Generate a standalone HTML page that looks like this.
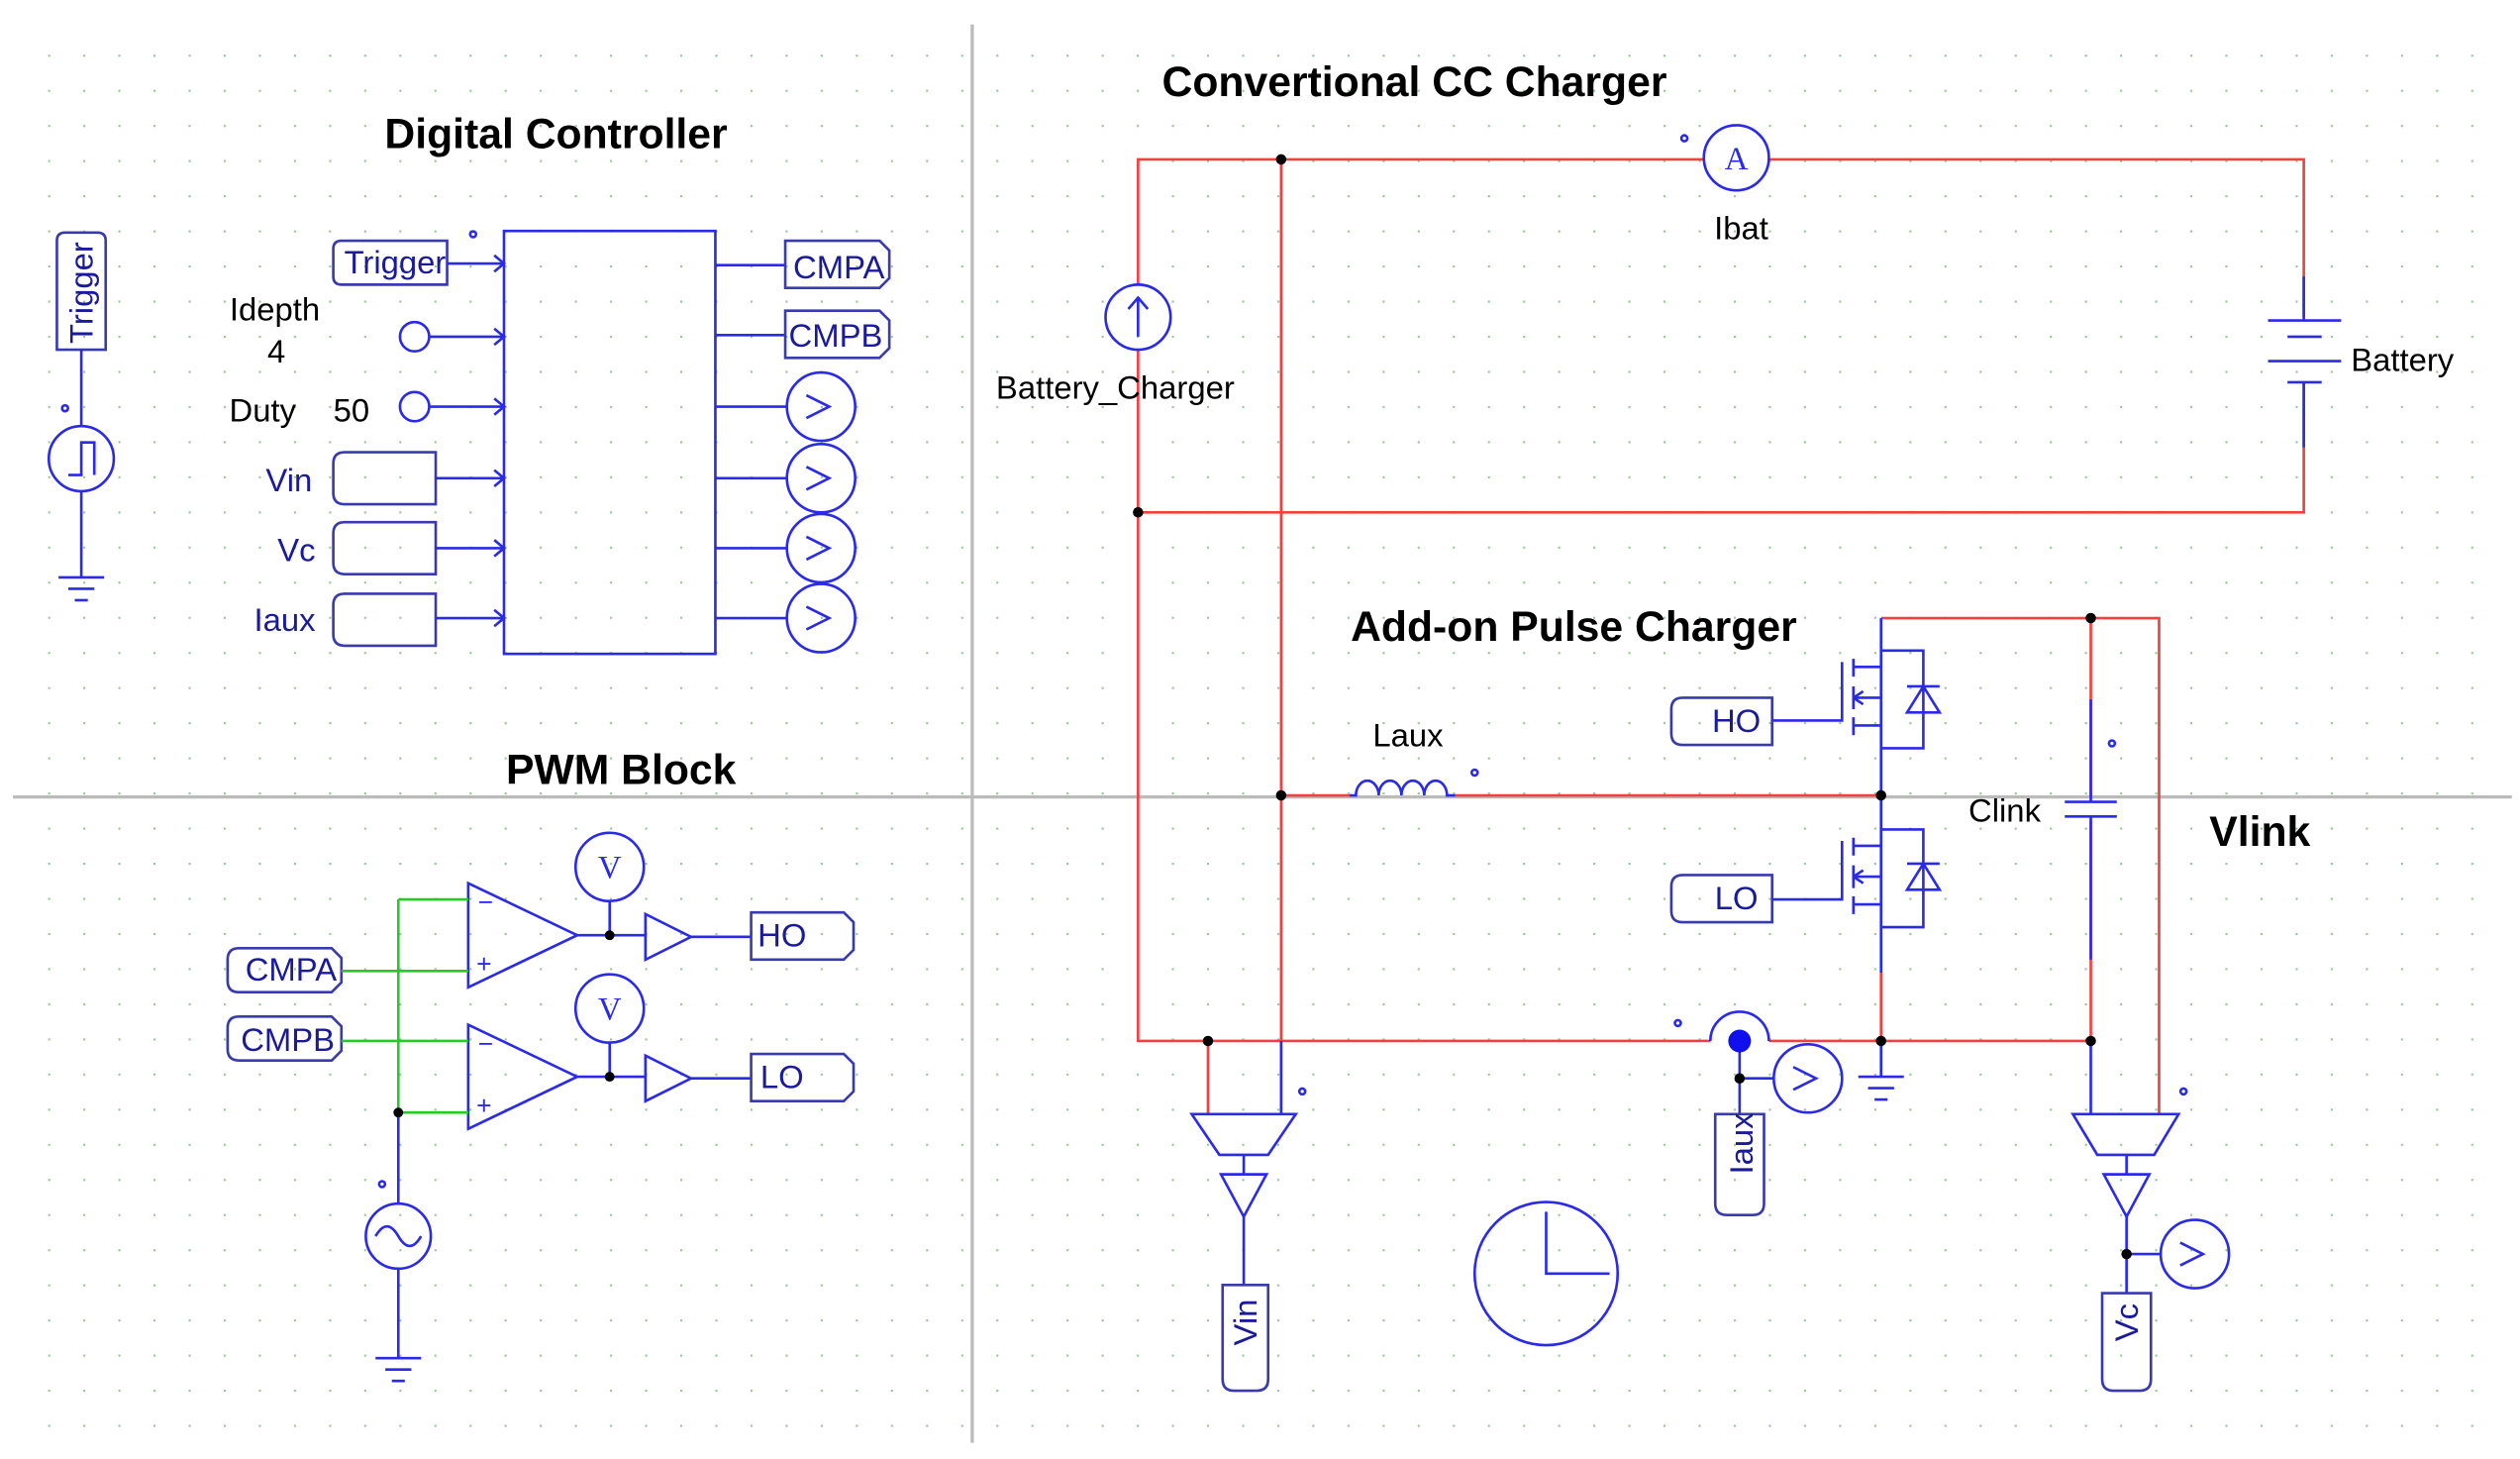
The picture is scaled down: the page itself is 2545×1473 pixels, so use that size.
<!DOCTYPE html>
<html><head><meta charset="utf-8"><style>
html,body{margin:0;padding:0;background:#fff;}
svg{display:block;}
text{font-family:"Liberation Sans",Arial,sans-serif;}
text.serif{font-family:"Liberation Serif",serif;}
</style></head><body>
<svg width="2545" height="1473" viewBox="0 0 1550 897" preserveAspectRatio="none" xmlns="http://www.w3.org/2000/svg">
<defs>
<pattern id="g" x="8" y="12" width="21.6" height="21.6" patternUnits="userSpaceOnUse">
<rect x="0" y="0" width="1.3" height="1.3" fill="#9cc49c"/>
</pattern>
</defs>
<rect width="1550" height="897" fill="#fff"/>
<rect x="10" y="20" width="1530" height="870" fill="url(#g)"/>
<line x1="598" y1="15" x2="598" y2="887" stroke="#bbb" stroke-width="2"/>
<line x1="8" y1="490" x2="1545" y2="490" stroke="#bbb" stroke-width="2"/>

<g font-weight="bold" font-size="26" fill="#000">
<text x="342" y="91" text-anchor="middle">Digital Controller</text>
<text x="382" y="482" text-anchor="middle">PWM Block</text>
<text x="870" y="59" text-anchor="middle">Convertional CC Charger</text>
<text x="968" y="394" text-anchor="middle">Add-on Pulse Charger</text>
<text x="1390" y="520" text-anchor="middle">Vlink</text>
</g>

<g fill="none" stroke="#2a2ae8" stroke-width="1.6">
<path d="M35,148 q0,-5 5,-5 h20 q5,0 5,5 v67 h-30 z" stroke="#3a3ab0"/>
<line x1="50" y1="215" x2="50" y2="262"/>
<circle cx="50" cy="282" r="20"/>
<path d="M42,292 h8 v-20 h8 v20"/>
<line x1="50" y1="302" x2="50" y2="355"/>
<line x1="36" y1="355" x2="64" y2="355"/><line x1="42" y1="362" x2="58" y2="362"/><line x1="46" y1="369" x2="54" y2="369"/>
<circle cx="40" cy="251" r="1.8"/>
<rect x="310" y="142" width="130" height="260"/>
<path d="M205,153 q0,-5 5,-5 h65 v27 h-65 q-5,0 -5,-5 z" stroke="#3a3ab0"/>
<line x1="275" y1="162" x2="310" y2="162"/>
<circle cx="255" cy="207" r="9"/><line x1="264" y1="207" x2="310" y2="207"/>
<circle cx="255" cy="250" r="9"/><line x1="264" y1="250" x2="310" y2="250"/>
<path d="M205,285 q0,-7 7,-7 h56 v32 h-56 q-7,0 -7,-7 z" stroke="#3a3ab0"/><line x1="268" y1="294" x2="310" y2="294"/>
<path d="M205,328 q0,-7 7,-7 h56 v32 h-56 q-7,0 -7,-7 z" stroke="#3a3ab0"/><line x1="268" y1="337" x2="310" y2="337"/>
<path d="M205,372 q0,-7 7,-7 h56 v32 h-56 q-7,0 -7,-7 z" stroke="#3a3ab0"/><line x1="268" y1="380" x2="310" y2="380"/>
<path d="M304,157 l6,5 l-6,5 M304,202 l6,5 l-6,5 M304,245 l6,5 l-6,5 M304,289 l6,5 l-6,5 M304,332 l6,5 l-6,5 M304,375 l6,5 l-6,5"/>
<circle cx="291" cy="144" r="1.8"/>
<line x1="440" y1="163" x2="483" y2="163"/>
<line x1="440" y1="206" x2="483" y2="206"/>
<path d="M483,148 h58 l6,6 v17 l-6,6 h-58 z" stroke="#3a3ab0"/>
<path d="M483,191 h58 l6,6 v17 l-6,6 h-58 z" stroke="#3a3ab0"/>
<line x1="440" y1="250" x2="484" y2="250"/><circle cx="505" cy="250" r="21"/>
<line x1="440" y1="294" x2="484" y2="294"/><circle cx="505" cy="294" r="21"/>
<line x1="440" y1="337" x2="484" y2="337"/><circle cx="505" cy="337" r="21"/>
<line x1="440" y1="380" x2="484" y2="380"/><circle cx="505" cy="380" r="21"/>
<path d="M496,243 l14,7 l-14,7 M496,287 l14,7 l-14,7 M496,330 l14,7 l-14,7 M496,373 l14,7 l-14,7"/>

<path d="M288,543 L288,607 L355,575 Z"/>
<path d="M288,630 L288,694 L355,662 Z"/>
<path d="M140,590 q0,-7 7,-7 h57 l6,6 v15 l-6,6 h-57 q-7,0 -7,-7 z" stroke="#3a3ab0"/>
<path d="M140,632 q0,-7 7,-7 h57 l6,6 v15 l-6,6 h-57 q-7,0 -7,-7 z" stroke="#3a3ab0"/>
<line x1="245" y1="684" x2="245" y2="740"/>
<circle cx="245" cy="760" r="20"/>
<path d="M231,760 q7,-12 14,0 q7,12 14,0"/>
<line x1="245" y1="780" x2="245" y2="835"/>
<line x1="231" y1="835" x2="259" y2="835"/><line x1="237" y1="842" x2="253" y2="842"/><line x1="241" y1="849" x2="249" y2="849"/>
<circle cx="235" cy="728" r="1.8"/>
<line x1="355" y1="575" x2="397" y2="575"/><line x1="375" y1="554" x2="375" y2="575"/>
<circle cx="375" cy="533" r="21"/>
<path d="M397,562 L397,590 L425,576 Z"/>
<line x1="425" y1="576" x2="462" y2="576"/>
<path d="M462,561 h57 l6,6 v17 l-6,6 h-57 z" stroke="#3a3ab0"/>
<line x1="355" y1="662" x2="397" y2="662"/><line x1="375" y1="641" x2="375" y2="662"/>
<circle cx="375" cy="620" r="21"/>
<path d="M397,649 L397,677 L425,663 Z"/>
<line x1="425" y1="663" x2="462" y2="663"/>
<path d="M462,648 h57 l6,6 v17 l-6,6 h-57 z" stroke="#3a3ab0"/>
</g>
<g fill="none" stroke="#22cc22" stroke-width="1.6">
<line x1="210" y1="597" x2="288" y2="597"/>
<line x1="210" y1="640" x2="288" y2="640"/>
<line x1="245" y1="553" x2="245" y2="684"/>
<line x1="245" y1="553" x2="288" y2="553"/>
<line x1="245" y1="684" x2="288" y2="684"/>
</g>
<g font-size="16" fill="#2a2ae8">
<text x="294" y="560">−</text><text x="293" y="598">+</text>
<text x="294" y="647">−</text><text x="293" y="685">+</text>
</g>
<g font-size="20" fill="#2a2ae8" text-anchor="middle">
<text class="serif" x="375" y="540">V</text><text class="serif" x="375" y="627">V</text>
<text class="serif" x="1068" y="104">A</text>
</g>
<g fill="#000"><circle cx="375" cy="575" r="3"/><circle cx="375" cy="662" r="3"/><circle cx="245" cy="684" r="3"/></g>

<g font-size="20" fill="#1a1a9a">
<text x="243" y="168" text-anchor="middle">Trigger</text>
<text x="516" y="171" text-anchor="middle">CMPA</text>
<text x="514" y="213" text-anchor="middle">CMPB</text>
<text x="192" y="302" text-anchor="end">Vin</text>
<text x="194" y="345" text-anchor="end">Vc</text>
<text x="194" y="388" text-anchor="end">Iaux</text>
<text x="179" y="603" text-anchor="middle">CMPA</text>
<text x="177" y="646" text-anchor="middle">CMPB</text>
<text x="481" y="582" text-anchor="middle">HO</text>
<text x="481" y="669" text-anchor="middle">LO</text>
<text transform="translate(57,180) rotate(-90)" text-anchor="middle">Trigger</text>
</g>
<g font-size="20" fill="#000">
<text x="169" y="197" text-anchor="middle">Idepth</text>
<text x="170" y="223" text-anchor="middle">4</text>
<text x="141" y="259">Duty</text><text x="205" y="259">50</text>
</g>

<g fill="none" stroke="#f04040" stroke-width="1.6">
<path d="M700,175 V98 H1048"/>
<path d="M1088,98 H1417 V195"/>
<path d="M1417,235 V315 H700"/>
<path d="M700,215 V640 H1052"/>
<line x1="788" y1="98" x2="788" y2="640"/>
<line x1="788" y1="489" x2="830" y2="489"/>
<line x1="895" y1="489" x2="1157" y2="489"/>
<path d="M1157,380 H1328 V685"/>
<line x1="1286" y1="380" x2="1286" y2="490"/>
<line x1="1286" y1="505" x2="1286" y2="640"/>
<path d="M1088,640 H1286"/>
<line x1="1157" y1="598" x2="1157" y2="640"/>
<line x1="743" y1="640" x2="743" y2="685"/>
</g>
<g fill="none" stroke="#2a2ae8" stroke-width="1.6">
<circle cx="1068" cy="97" r="20"/>
<circle cx="700" cy="195" r="20"/>
<path d="M700,207 V183 M694,190 L700,183 L706,190"/>
<line x1="1395" y1="197" x2="1440" y2="197"/>
<line x1="1407" y1="207" x2="1428" y2="207"/>
<line x1="1395" y1="222" x2="1440" y2="222"/>
<line x1="1407" y1="235" x2="1428" y2="235"/>
<line x1="1417" y1="170" x2="1417" y2="197"/><line x1="1417" y1="235" x2="1417" y2="275"/>
<circle cx="1036" cy="85" r="1.8"/>
<path d="M830,489 h4 a7,9 0 0 1 14,0 a7,9 0 0 1 14,0 a7,9 0 0 1 14,0 a7,9 0 0 1 14,0 h5"/>
<circle cx="907" cy="475" r="1.8"/>
<line x1="1157" y1="380" x2="1157" y2="598"/>
<path d="M1028,436 q0,-7 7,-7 h55 v29 h-55 q-7,0 -7,-7 z" stroke="#3a3ab0"/>
<path d="M1028,545 q0,-7 7,-7 h55 v29 h-55 q-7,0 -7,-7 z" stroke="#3a3ab0"/>
<path d="M1090,443 H1133 V407"/>
<path d="M1140,405 V416 M1140,422 V436 M1140,441 V452 M1140,410 H1157 M1140,429 H1157 M1140,446 H1157 M1140,429 l6,-4 M1140,429 l6,4"/>
<path d="M1157,400 H1183 V460 H1157 M1173,422 H1193 M1183,422 L1173,438 H1193 Z"/>
<path d="M1090,553 H1133 V517"/>
<path d="M1140,515 V526 M1140,532 V546 M1140,551 V562 M1140,520 H1157 M1140,539 H1157 M1140,556 H1157 M1140,539 l6,-4 M1140,539 l6,4"/>
<path d="M1157,510 H1183 V570 H1157 M1173,531 H1193 M1183,531 L1173,547 H1193 Z"/>
<line x1="1286" y1="430" x2="1286" y2="493"/>
<line x1="1270" y1="493" x2="1302" y2="493"/><line x1="1270" y1="502" x2="1302" y2="502"/>
<line x1="1286" y1="502" x2="1286" y2="590"/>
<circle cx="1299" cy="457" r="1.8"/>
<line x1="1157" y1="640" x2="1157" y2="662"/>
<line x1="1143" y1="662" x2="1171" y2="662"/><line x1="1149" y1="669" x2="1165" y2="669"/><line x1="1153" y1="676" x2="1161" y2="676"/>
<path d="M1052,640 a18,18 0 0 1 36,0"/>
<line x1="1070" y1="640" x2="1070" y2="685"/>
<line x1="1070" y1="663" x2="1091" y2="663"/>
<circle cx="1112" cy="663" r="21"/>
<path d="M1103,656 l14,7 l-14,7"/>
<path d="M1055,685 h30 v55 q0,7 -7,7 h-16 q-7,0 -7,-7 z" stroke="#3a3ab0"/>
<circle cx="1032" cy="629" r="1.8"/>
<path d="M733,685 H797 L780,710 H750 Z"/>
<path d="M751,722 H779 L765,748 Z"/>
<line x1="765" y1="710" x2="765" y2="722"/>
<line x1="765" y1="748" x2="765" y2="790"/>
<path d="M752,790 h28 v58 q0,7 -7,7 h-14 q-7,0 -7,-7 z" stroke="#3a3ab0"/>
<line x1="788" y1="640" x2="788" y2="685"/>
<circle cx="801" cy="671" r="1.8"/>
<path d="M1275,685 H1340 L1325,710 H1290 Z"/>
<path d="M1294,722 H1322 L1308,748 Z"/>
<line x1="1308" y1="710" x2="1308" y2="722"/>
<line x1="1308" y1="748" x2="1308" y2="795"/>
<line x1="1308" y1="771" x2="1329" y2="771"/>
<circle cx="1350" cy="771" r="21"/>
<path d="M1341,764 l14,7 l-14,7"/>
<path d="M1293,795 h30 v53 q0,7 -7,7 h-16 q-7,0 -7,-7 z" stroke="#3a3ab0"/>
<line x1="1286" y1="640" x2="1286" y2="685"/>
<circle cx="1343" cy="671" r="1.8"/>
<circle cx="951" cy="783" r="44"/>
<path d="M951,745 V783 H990"/>
</g>
<g fill="#000">
<circle cx="788" cy="98" r="3.2"/><circle cx="700" cy="315" r="3.2"/>
<circle cx="788" cy="489" r="3.2"/><circle cx="1157" cy="489" r="3.2"/>
<circle cx="1286" cy="380" r="3.2"/><circle cx="743" cy="640" r="3.2"/>
<circle cx="1157" cy="640" r="3.2"/><circle cx="1286" cy="640" r="3.2"/>
<circle cx="1070" cy="663" r="3.2"/><circle cx="1308" cy="771" r="3.2"/>
</g>
<circle cx="1070" cy="640" r="7" fill="#1010ee"/>
<g font-size="20" fill="#000">
<text x="1071" y="147" text-anchor="middle">Ibat</text>
<text x="686" y="245" text-anchor="middle">Battery_Charger</text>
<text x="1446" y="228">Battery</text>
<text x="866" y="459" text-anchor="middle">Laux</text>
<text x="1233" y="505" text-anchor="middle">Clink</text>
</g>
<g font-size="20" fill="#1a1a9a">
<text x="1068" y="450" text-anchor="middle">HO</text>
<text x="1068" y="559" text-anchor="middle">LO</text>
<text transform="translate(1078,703) rotate(-90)" text-anchor="middle">Iaux</text>
<text transform="translate(773,813) rotate(-90)" text-anchor="middle">Vin</text>
<text transform="translate(1315,813) rotate(-90)" text-anchor="middle">Vc</text>
</g>
</svg>
</body></html>
